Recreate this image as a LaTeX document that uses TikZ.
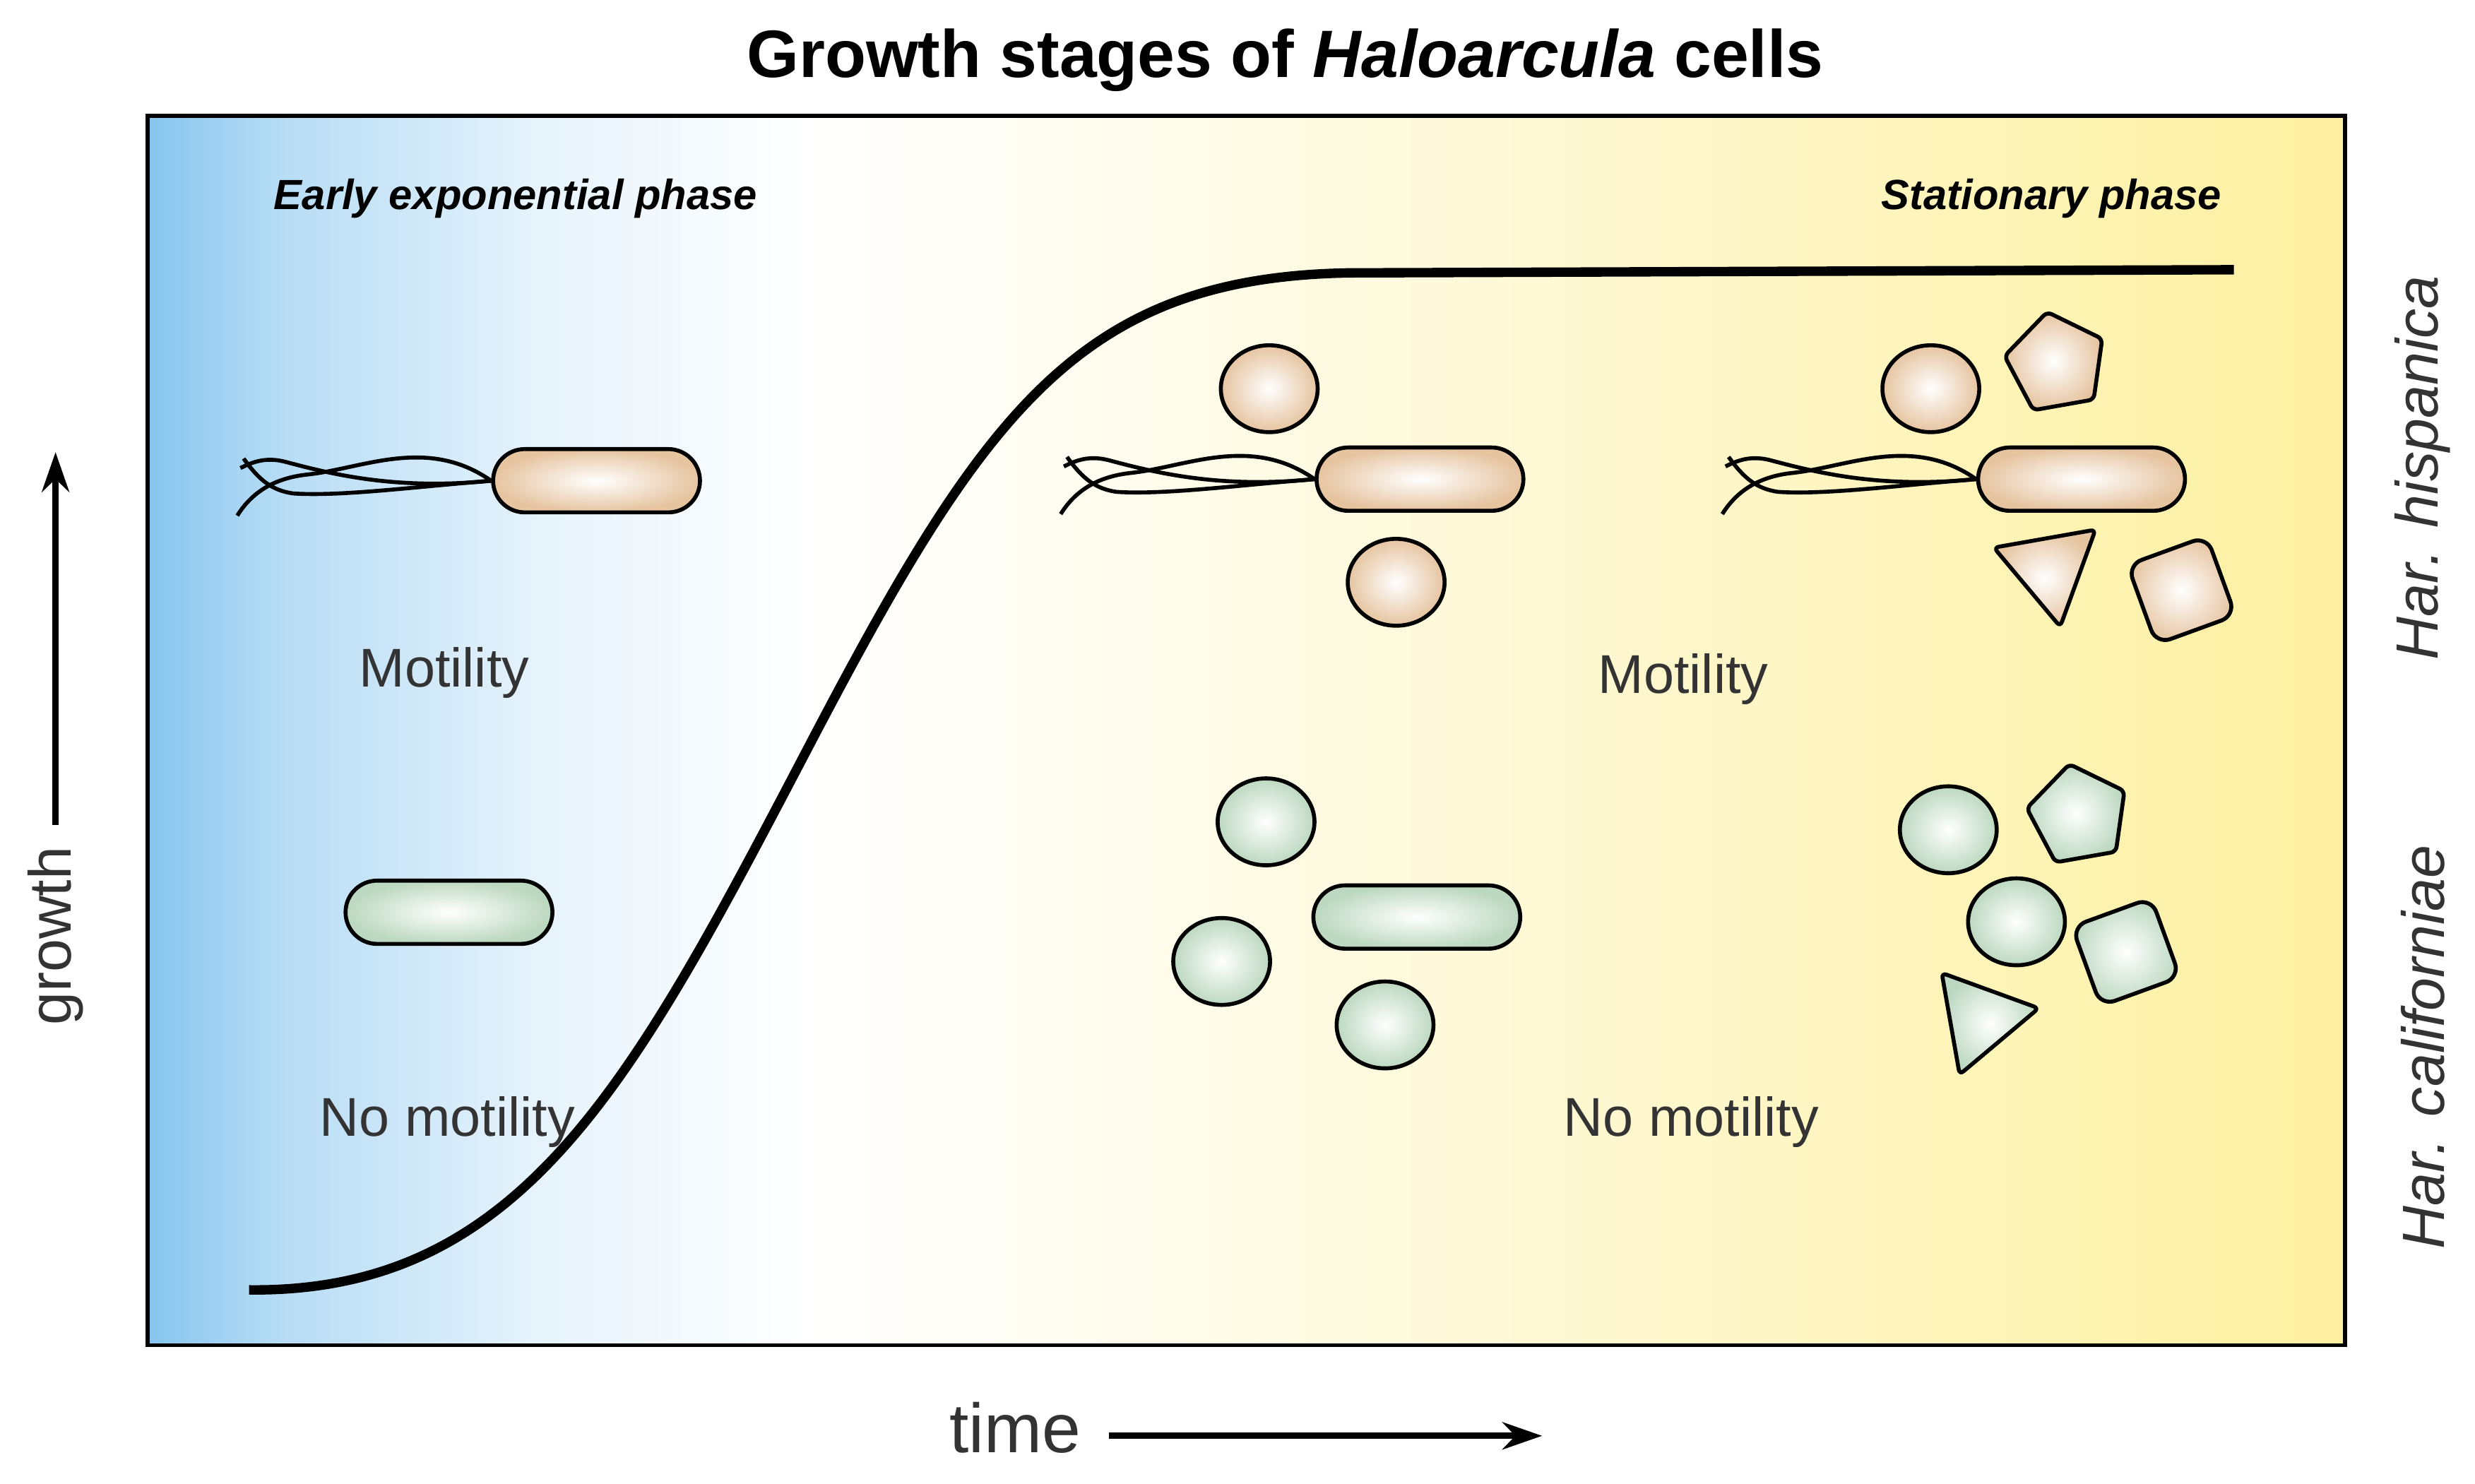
\documentclass[tikz,border=0pt]{standalone}
\usepackage{fontspec}
\setmainfont{Liberation Sans}
\usetikzlibrary{shapes.geometric,shapes.misc,arrows.meta}
\definecolor{phaseblue}{HTML}{86C5EE}
\definecolor{phaseyellow}{HTML}{FDF0A0}
\definecolor{tancell}{HTML}{E6C4A0}
\definecolor{greencell}{HTML}{BCD8C0}
\pgfdeclarehorizontalshading{phaseshade}{100bp}{color(0bp)=(phaseblue); color(25bp)=(phaseblue); color(28bp)=(phaseblue!60!white); color(34bp)=(phaseblue!20!white); color(40bp)=(white); color(48bp)=(phaseyellow!20!white); color(60bp)=(phaseyellow!55!white); color(75bp)=(phaseyellow); color(100bp)=(phaseyellow)}
\newcommand{\flagellum}[1]{%
  \begin{scope}[shift={(#1.west)}, line width=1.6pt]
    \draw (0,0) .. controls (-40,-28) and (-80,-8) .. (-115,-4) .. controls (-135,-2) and (-150,6) .. (-160,22);
    \draw (0,0) .. controls (-60,6) and (-100,-4) .. (-130,-12) .. controls (-142,-15) and (-150,-12) .. (-158,-8);
    \draw (0,0) .. controls (-50,4) and (-95,10) .. (-125,8) .. controls (-138,6) and (-146,0) .. (-156,-14);
  \end{scope}}
\begin{document}
\begin{tikzpicture}[x=0.02246cm, y=-0.02246cm,
    cell/.style={draw, line width=1.6pt},
    rod/.style={cell, rounded rectangle, minimum width=90pt, minimum height=25.5pt, shading=radial},
    coccus/.style={cell, ellipse, minimum width=39pt, minimum height=35pt, shading=radial},
    tan/.style={inner color=white, outer color=tancell},
    green/.style={inner color=white, outer color=greencell},
    penta/.style={cell, regular polygon, regular polygon sides=5, minimum size=42pt, rounded corners=2pt, shading=radial},
    tri/.style={cell, regular polygon, regular polygon sides=3, minimum size=48pt, rounded corners=2pt, shading=radial},
    quad/.style={cell, regular polygon, regular polygon sides=4, minimum size=48pt, rounded corners=6pt, shading=radial},
    axis/.style={line width=2.5pt, -{Stealth[length=16pt, width=11pt]}},
    label/.style={font=\fontsize{22}{26}\selectfont, text=black!80}]
  \useasboundingbox (0,0) rectangle (1560,935);
  % title and panel
  \node (title) at (810,38) {\fontsize{27}{31}\selectfont\bfseries Growth stages of \textit{Haloarcula} cells};
  \draw[shading=phaseshade, line width=1.5pt] (93,73) rectangle (1478,848);
  \node[font=\fontsize{17}{20}\selectfont\bfseries\itshape] (early) at (325,125) {Early exponential phase};
  \node[font=\fontsize{17}{20}\selectfont\bfseries\itshape] (stat) at (1293,125) {Stationary phase};
  % growth curve
  \draw[line width=3.8pt] (157,813) .. controls (330,815) and (400,680) .. (510,470)
    .. controls (620,260) and (680,175) .. (850,172) -- (1408,170);
  % axes
  \node[label, rotate=90, font=\fontsize{24}{28}\selectfont] (growth) at (35,590) {growth};
  \coordinate (gtop) at (35,285);
  \draw[axis] (growth.east) ++(0,-8) -- (gtop);
  \node[label, font=\fontsize{28}{32}\selectfont] (time) at (640,900) {time};
  \coordinate (tend) at (972,905);
  \draw[axis] (time.east) ++(12,5) -- (tend);
  \node[rotate=90, font=\fontsize{24}{28}\selectfont\itshape, text=black!80] (hisp) at (1527,295) {Har. hispanica};
  \node[rotate=90, font=\fontsize{24}{28}\selectfont\itshape, text=black!80] (cali) at (1527,660) {Har. californiae};
  % texts
  \node[label] (mot1) at (280,424) {Motility};
  \node[label] (mot2) at (1061,428) {Motility};
  \node[label] (nomot1) at (282,707) {No motility};
  \node[label] (nomot2) at (1066,707) {No motility};
  % Har. hispanica cells
  \node[rod, tan] (hrod1) at (376,303) {};
  \node[rod, tan] (hrod2) at (895,302) {};
  \node[rod, tan] (hrod3) at (1312,302) {};
  \flagellum{hrod1}
  \flagellum{hrod2}
  \flagellum{hrod3}
  \node[coccus, tan] (hcoc1) at (800,245) {};
  \node[coccus, tan] (hcoc2) at (880,367) {};
  \node[coccus, tan] (hcoc3) at (1217,245) {};
  \node[penta, tan, rotate=10] (hpenta) at (1296,229) {};
  \node[tri, tan, rotate=190] (htri) at (1292,358) {};
  \node[quad, tan, rotate=20] (hquad) at (1375,372) {};
  % Har. californiae cells
  \node[rod, green] (crod1) at (283,575) {};
  \node[rod, green] (crod2) at (893,578) {};
  \node[coccus, green] (ccoc1) at (798,518) {};
  \node[coccus, green] (ccoc2) at (770,606) {};
  \node[coccus, green] (ccoc3) at (873,646) {};
  \node[coccus, green] (ccoc4) at (1228,523) {};
  \node[coccus, green] (ccoc5) at (1271,581) {};
  \node[penta, green, rotate=10] (cpenta) at (1310,514) {};
  \node[quad, green, rotate=20] (cquad) at (1340,600) {};
  \node[tri, green, rotate=160] (ctri) at (1248,642) {};
\end{tikzpicture}
\end{document}
